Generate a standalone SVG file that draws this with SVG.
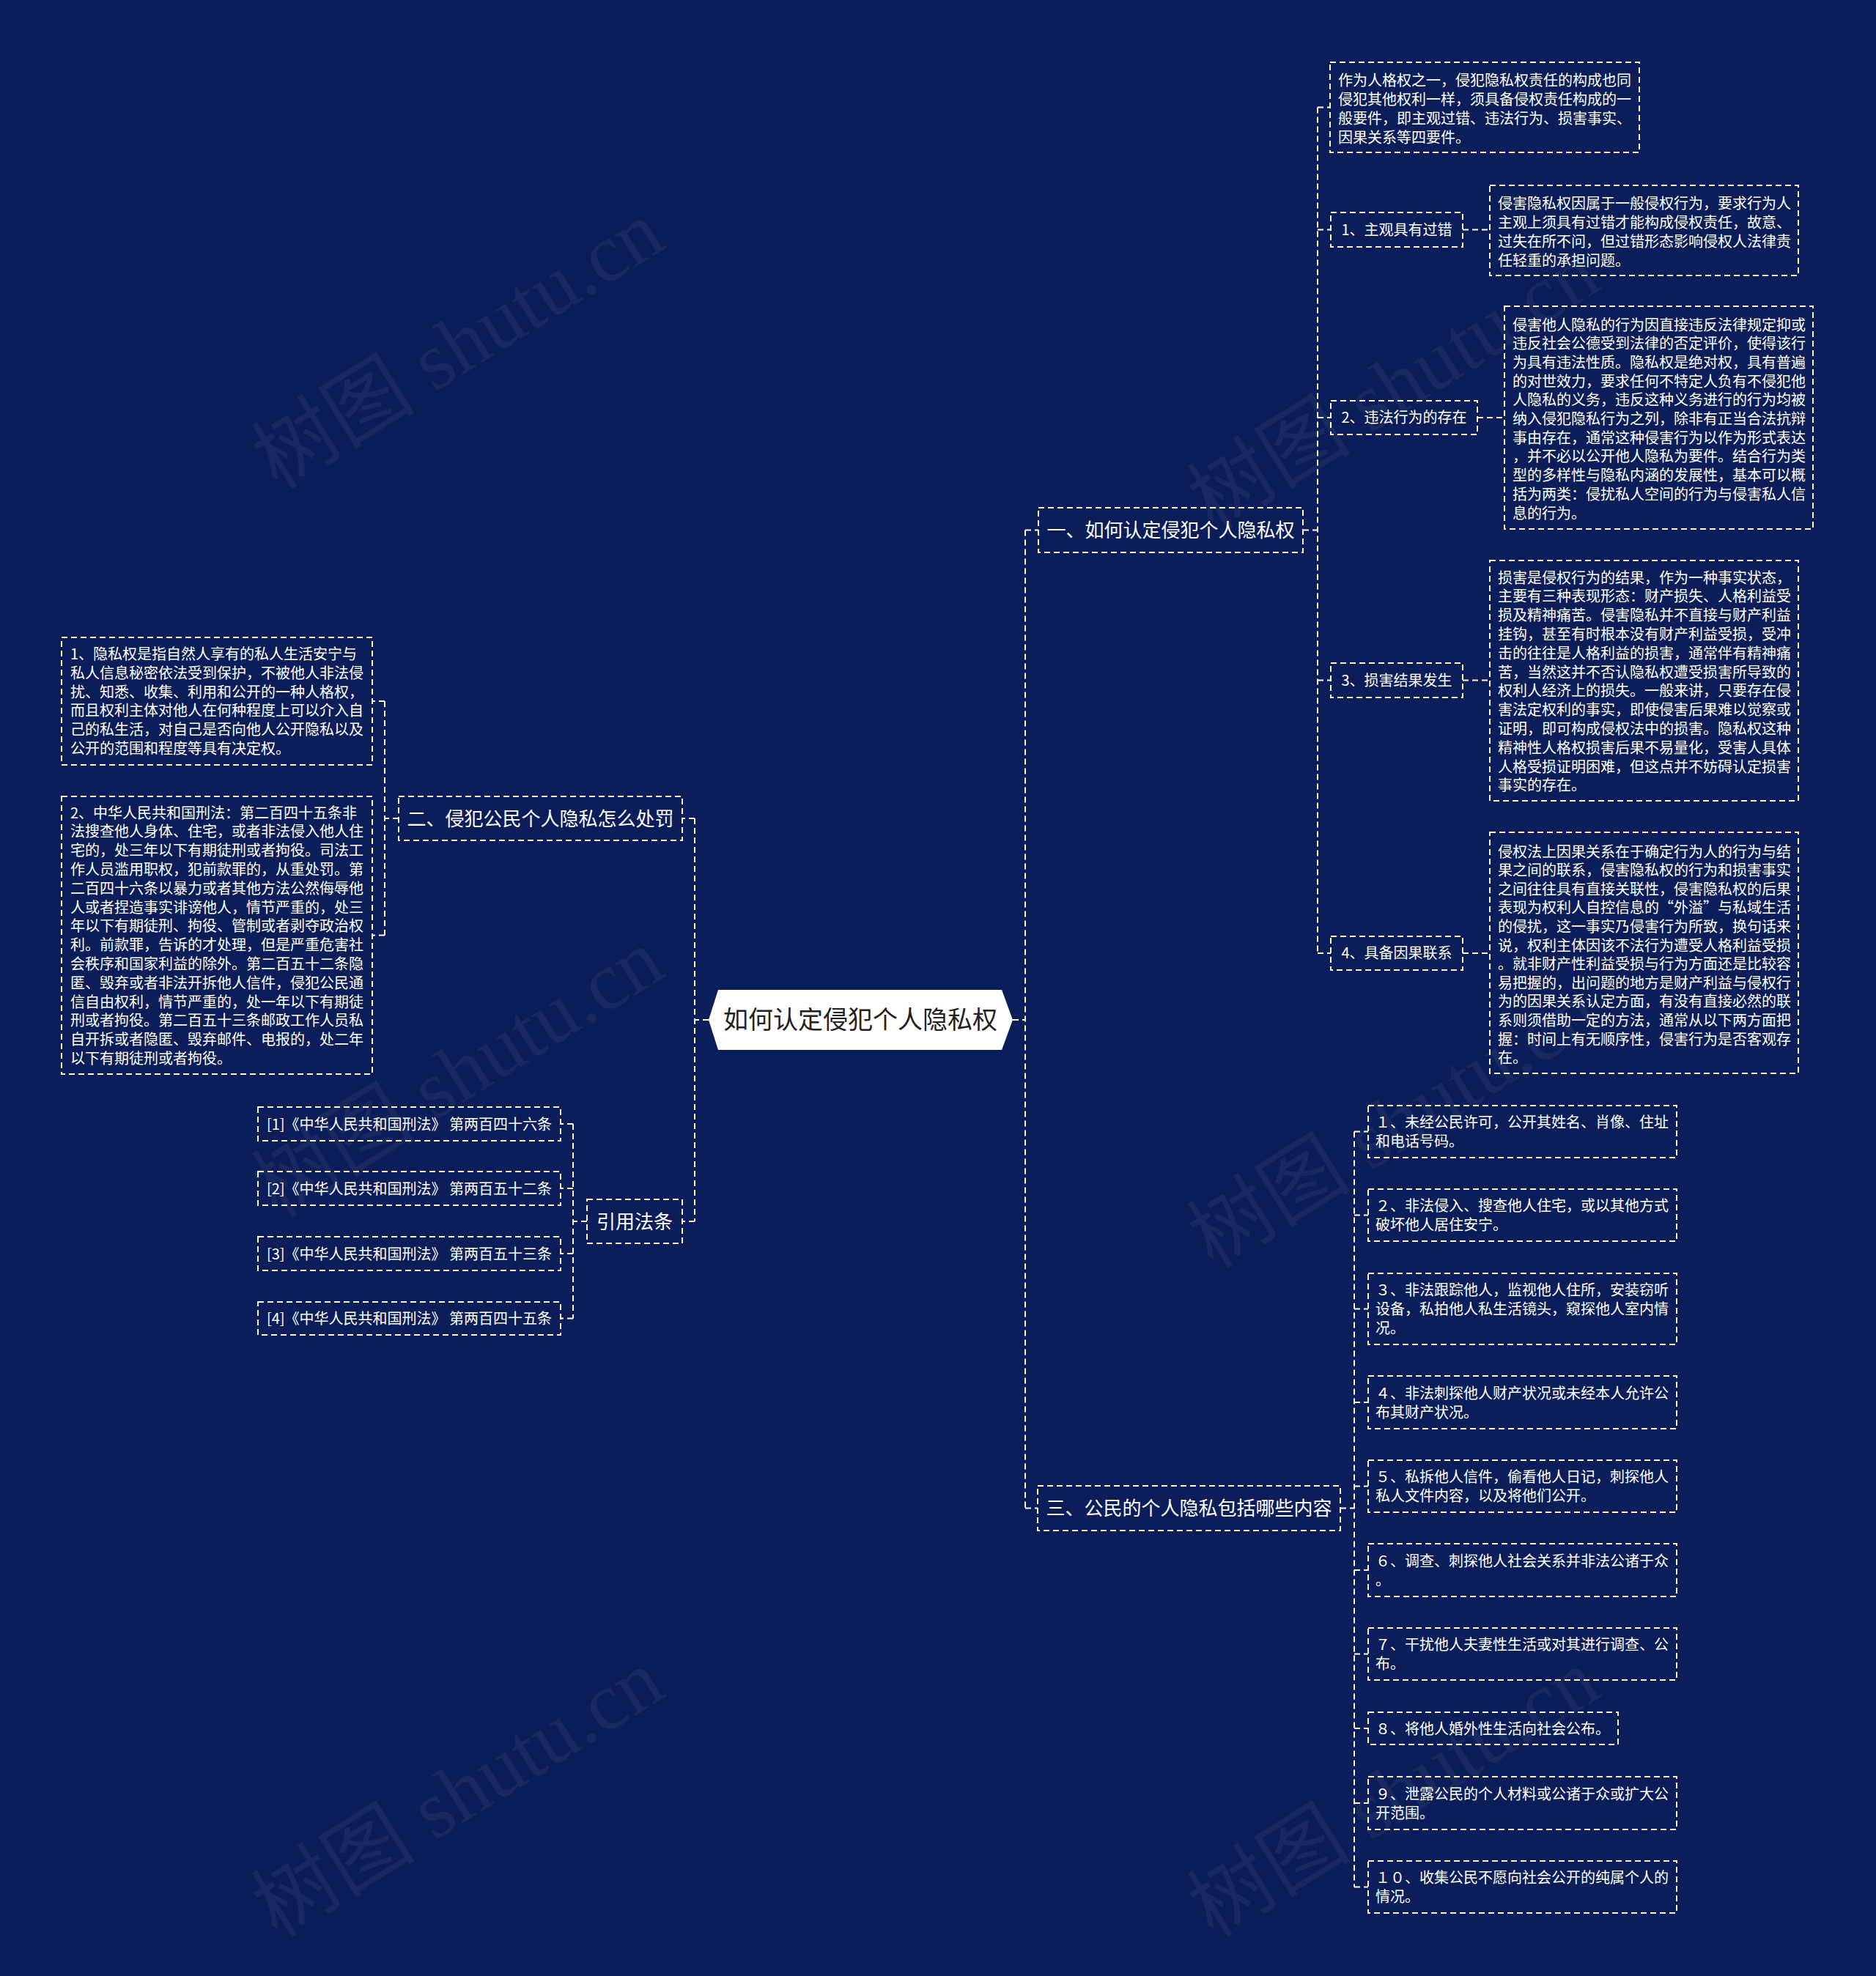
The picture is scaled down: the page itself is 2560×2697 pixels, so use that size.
<svg xmlns="http://www.w3.org/2000/svg" width="2560" height="2697" viewBox="0 0 2560 2697">
<style>
.bg{fill:#0c1e5a}
.wm{font-family:'Liberation Serif','Noto Sans CJK SC',serif;font-size:112px;fill:#ffffff;fill-opacity:0.05}
.box{fill:none;stroke:#ffffff;stroke-width:2;stroke-dasharray:8 5}
.ln{fill:none;stroke:#ffffff;stroke-width:2;stroke-dasharray:8 5}
.t20{font-family:'Noto Sans CJK SC','Noto Sans',sans-serif;font-size:20px;fill:#ffffff}
.t26{font-family:'Noto Sans CJK SC','Noto Sans',sans-serif;font-size:26px;fill:#ffffff}
.troot{font-family:'Noto Sans CJK SC','Noto Sans',sans-serif;font-size:34px;fill:#222222}
.mid{text-anchor:middle}
</style>
<rect class="bg" x="0" y="0" width="2560" height="2697"/>
<g id="watermarks">
<text class="wm mid" transform="translate(645,503) rotate(-32)">树图 shutu.cn</text>
<text class="wm mid" transform="translate(1922,559) rotate(-32)">树图 shutu.cn</text>
<text class="wm mid" transform="translate(645,1497) rotate(-32)">树图 shutu.cn</text>
<text class="wm mid" transform="translate(1922,1566) rotate(-32)">树图 shutu.cn</text>
<text class="wm mid" transform="translate(645,2480) rotate(-32)">树图 shutu.cn</text>
<text class="wm mid" transform="translate(1922,2480) rotate(-32)">树图 shutu.cn</text>
</g>
<g id="connectors">
<path class="ln" d="M1382 1392H1399M1399 723.5V2058.5M1399 723.5H1417M1399 2058.5H1416"/>
<path class="ln" d="M967 1392H948M948 1117V1667M948 1117H931M948 1667H931"/>
<path class="ln" d="M1778 723.5H1798M1798 146.5V1301M1798 146.5H1815M1798 313.5H1816M1798 570H1816M1798 928.5H1816M1798 1301H1816"/>
<path class="ln" d="M1996 313.5H2033M2016 570H2053M1996 928.5H2033M1996 1301H2033"/>
<path class="ln" d="M544 1117H525M525 957V1276.5M525 957H508M525 1276.5H508"/>
<path class="ln" d="M801 1667H782M782 1534V1799.5M782 1534H765M782 1622H765M782 1711H765M782 1799.5H765"/>
<path class="ln" d="M1829 2058.5H1848M1848 1544.5V2575.5M1848 1544.5H1867M1848 1658.5H1867M1848 1786.5H1867M1848 1914H1867M1848 2028.5H1867M1848 2143H1867M1848 2257.5H1867M1848 2359H1867M1848 2461H1867M1848 2575.5H1867"/>
</g>
<g id="root">
<polygon points="967,1392 980,1351 1367,1351 1382,1392 1367,1433 980,1433" fill="#ffffff"/>
<text class="troot mid" x="1174" y="1404">如何认定侵犯个人隐私权</text>
</g>
<g id="branch1">
<rect class="box" x="1417" y="693" width="361" height="61"/>
<text class="t26 mid" x="1597.5" y="733">一、如何认定侵犯个人隐私权</text>
</g>
<g id="b1-intro">
<rect class="box" x="1815" y="85" width="422" height="123"/>
<text class="t20"><tspan x="1826" y="117">作为人格权之一，侵犯隐私权责任的构成也同</tspan><tspan x="1826" y="143">侵犯其他权利一样，须具备侵权责任构成的一</tspan><tspan x="1826" y="169">般要件，即主观过错、违法行为、损害事实、</tspan><tspan x="1826" y="195">因果关系等四要件。</tspan></text>
</g>
<g id="b1-item1">
<rect class="box" x="1816" y="290" width="180" height="47"/>
<text class="t20 mid" x="1906" y="320.5">1、主观具有过错</text>
</g>
<g id="b1-detail1">
<rect class="box" x="2033" y="253" width="421" height="123"/>
<text class="t20"><tspan x="2044" y="285">侵害隐私权因属于一般侵权行为，要求行为人</tspan><tspan x="2044" y="311">主观上须具有过错才能构成侵权责任，故意、</tspan><tspan x="2044" y="337">过失在所不问，但过错形态影响侵权人法律责</tspan><tspan x="2044" y="363">任轻重的承担问题。</tspan></text>
</g>
<g id="b1-item2">
<rect class="box" x="1816" y="547" width="200" height="46"/>
<text class="t20 mid" x="1916" y="577">2、违法行为的存在</text>
</g>
<g id="b1-detail2">
<rect class="box" x="2053" y="418" width="421" height="304"/>
<text class="t20"><tspan x="2064" y="450.5">侵害他人隐私的行为因直接违反法律规定抑或</tspan><tspan x="2064" y="476.2">违反社会公德受到法律的否定评价，使得该行</tspan><tspan x="2064" y="501.9">为具有违法性质。隐私权是绝对权，具有普遍</tspan><tspan x="2064" y="527.6">的对世效力，要求任何不特定人负有不侵犯他</tspan><tspan x="2064" y="553.3">人隐私的义务，违反这种义务进行的行为均被</tspan><tspan x="2064" y="579">纳入侵犯隐私行为之列，除非有正当合法抗辩</tspan><tspan x="2064" y="604.7">事由存在，通常这种侵害行为以作为形式表达</tspan><tspan x="2064" y="630.4">，并不必以公开他人隐私为要件。结合行为类</tspan><tspan x="2064" y="656.1">型的多样性与隐私内涵的发展性，基本可以概</tspan><tspan x="2064" y="681.8">括为两类：侵扰私人空间的行为与侵害私人信</tspan><tspan x="2064" y="707.5">息的行为。</tspan></text>
</g>
<g id="b1-item3">
<rect class="box" x="1816" y="905" width="180" height="47"/>
<text class="t20 mid" x="1906" y="936">3、损害结果发生</text>
</g>
<g id="b1-detail3">
<rect class="box" x="2033" y="765" width="421" height="328"/>
<text class="t20"><tspan x="2044" y="795.5">损害是侵权行为的结果，作为一种事实状态，</tspan><tspan x="2044" y="821.3">主要有三种表现形态：财产损失、人格利益受</tspan><tspan x="2044" y="847.1">损及精神痛苦。侵害隐私并不直接与财产利益</tspan><tspan x="2044" y="872.9">挂钩，甚至有时根本没有财产利益受损，受冲</tspan><tspan x="2044" y="898.7">击的往往是人格利益的损害，通常伴有精神痛</tspan><tspan x="2044" y="924.5">苦，当然这并不否认隐私权遭受损害所导致的</tspan><tspan x="2044" y="950.3">权利人经济上的损失。一般来讲，只要存在侵</tspan><tspan x="2044" y="976.1">害法定权利的事实，即使侵害后果难以觉察或</tspan><tspan x="2044" y="1001.9">证明，即可构成侵权法中的损害。隐私权这种</tspan><tspan x="2044" y="1027.7">精神性人格权损害后果不易量化，受害人具体</tspan><tspan x="2044" y="1053.5">人格受损证明困难，但这点并不妨碍认定损害</tspan><tspan x="2044" y="1079.3">事实的存在。</tspan></text>
</g>
<g id="b1-item4">
<rect class="box" x="1816" y="1278" width="180" height="46"/>
<text class="t20 mid" x="1906" y="1308">4、具备因果联系</text>
</g>
<g id="b1-detail4">
<rect class="box" x="2033" y="1136" width="421" height="329"/>
<text class="t20"><tspan x="2044" y="1169.5">侵权法上因果关系在于确定行为人的行为与结</tspan><tspan x="2044" y="1195.1">果之间的联系，侵害隐私权的行为和损害事实</tspan><tspan x="2044" y="1220.7">之间往往具有直接关联性，侵害隐私权的后果</tspan><tspan x="2044" y="1246.3">表现为权利人自控信息的“外溢”与私域生活</tspan><tspan x="2044" y="1271.9">的侵扰，这一事实乃侵害行为所致，换句话来</tspan><tspan x="2044" y="1297.5">说，权利主体因该不法行为遭受人格利益受损</tspan><tspan x="2044" y="1323.1">。就非财产性利益受损与行为方面还是比较容</tspan><tspan x="2044" y="1348.7">易把握的，出问题的地方是财产利益与侵权行</tspan><tspan x="2044" y="1374.3">为的因果关系认定方面，有没有直接必然的联</tspan><tspan x="2044" y="1399.9">系则须借助一定的方法，通常从以下两方面把</tspan><tspan x="2044" y="1425.5">握：时间上有无顺序性，侵害行为是否客观存</tspan><tspan x="2044" y="1451.1">在。</tspan></text>
</g>
<g id="branch2">
<rect class="box" x="544" y="1087" width="387" height="60"/>
<text class="t26 mid" x="737.5" y="1126.5">二、侵犯公民个人隐私怎么处罚</text>
</g>
<g id="b2-item1">
<rect class="box" x="84" y="870" width="424" height="174"/>
<text class="t20"><tspan x="96" y="900">1、隐私权是指自然人享有的私人生活安宁与</tspan><tspan x="96" y="925.8">私人信息秘密依法受到保护，不被他人非法侵</tspan><tspan x="96" y="951.6">扰、知悉、收集、利用和公开的一种人格权，</tspan><tspan x="96" y="977.4">而且权利主体对他人在何种程度上可以介入自</tspan><tspan x="96" y="1003.2">己的私生活，对自己是否向他人公开隐私以及</tspan><tspan x="96" y="1029">公开的范围和程度等具有决定权。</tspan></text>
</g>
<g id="b2-item2">
<rect class="box" x="84" y="1087" width="424" height="379"/>
<text class="t20"><tspan x="96" y="1116.5">2、中华人民共和国刑法：第二百四十五条非</tspan><tspan x="96" y="1142.3">法搜查他人身体、住宅，或者非法侵入他人住</tspan><tspan x="96" y="1168.1">宅的，处三年以下有期徒刑或者拘役。司法工</tspan><tspan x="96" y="1193.9">作人员滥用职权，犯前款罪的，从重处罚。第</tspan><tspan x="96" y="1219.7">二百四十六条以暴力或者其他方法公然侮辱他</tspan><tspan x="96" y="1245.5">人或者捏造事实诽谤他人，情节严重的，处三</tspan><tspan x="96" y="1271.3">年以下有期徒刑、拘役、管制或者剥夺政治权</tspan><tspan x="96" y="1297.1">利。前款罪，告诉的才处理，但是严重危害社</tspan><tspan x="96" y="1322.9">会秩序和国家利益的除外。第二百五十二条隐</tspan><tspan x="96" y="1348.7">匿、毁弃或者非法开拆他人信件，侵犯公民通</tspan><tspan x="96" y="1374.5">信自由权利，情节严重的，处一年以下有期徒</tspan><tspan x="96" y="1400.3">刑或者拘役。第二百五十三条邮政工作人员私</tspan><tspan x="96" y="1426.1">自开拆或者隐匿、毁弃邮件、电报的，处二年</tspan><tspan x="96" y="1451.9">以下有期徒刑或者拘役。</tspan></text>
</g>
<g id="citations">
<rect class="box" x="801" y="1637" width="130" height="60"/>
<text class="t26 mid" x="866" y="1676.5">引用法条</text>
</g>
<g id="cite1">
<rect class="box" x="352" y="1511" width="413" height="46"/>
<text class="t20 mid" x="558.5" y="1541.5">[1]《中华人民共和国刑法》 第两百四十六条</text>
</g>
<g id="cite2">
<rect class="box" x="352" y="1599" width="413" height="46"/>
<text class="t20 mid" x="558.5" y="1629.5">[2]《中华人民共和国刑法》 第两百五十二条</text>
</g>
<g id="cite3">
<rect class="box" x="352" y="1688" width="413" height="46"/>
<text class="t20 mid" x="558.5" y="1718.5">[3]《中华人民共和国刑法》 第两百五十三条</text>
</g>
<g id="cite4">
<rect class="box" x="352" y="1777" width="413" height="45"/>
<text class="t20 mid" x="558.5" y="1807">[4]《中华人民共和国刑法》 第两百四十五条</text>
</g>
<g id="branch3">
<rect class="box" x="1416" y="2028" width="413" height="61"/>
<text class="t26 mid" x="1622.5" y="2068">三、公民的个人隐私包括哪些内容</text>
</g>
<g id="b3-item1">
<rect class="box" x="1867" y="1509" width="421" height="71"/>
<text class="t20"><tspan x="1877" y="1539">１、未经公民许可，公开其姓名、肖像、住址</tspan><tspan x="1877" y="1565">和电话号码。</tspan></text>
</g>
<g id="b3-item2">
<rect class="box" x="1867" y="1623" width="421" height="71"/>
<text class="t20"><tspan x="1877" y="1653">２、非法侵入、搜查他人住宅，或以其他方式</tspan><tspan x="1877" y="1679">破坏他人居住安宁。</tspan></text>
</g>
<g id="b3-item3">
<rect class="box" x="1867" y="1738" width="421" height="97"/>
<text class="t20"><tspan x="1877" y="1768">３、非法跟踪他人，监视他人住所，安装窃听</tspan><tspan x="1877" y="1794">设备，私拍他人私生活镜头，窥探他人室内情</tspan><tspan x="1877" y="1820">况。</tspan></text>
</g>
<g id="b3-item4">
<rect class="box" x="1867" y="1878" width="421" height="72"/>
<text class="t20"><tspan x="1877" y="1908.5">４、非法刺探他人财产状况或未经本人允许公</tspan><tspan x="1877" y="1934.5">布其财产状况。</tspan></text>
</g>
<g id="b3-item5">
<rect class="box" x="1867" y="1993" width="421" height="71"/>
<text class="t20"><tspan x="1877" y="2023">５、私拆他人信件，偷看他人日记，刺探他人</tspan><tspan x="1877" y="2049">私人文件内容，以及将他们公开。</tspan></text>
</g>
<g id="b3-item6">
<rect class="box" x="1867" y="2107" width="421" height="72"/>
<text class="t20"><tspan x="1877" y="2137.5">６、调查、刺探他人社会关系并非法公诸于众</tspan><tspan x="1877" y="2163.5">。</tspan></text>
</g>
<g id="b3-item7">
<rect class="box" x="1867" y="2222" width="421" height="71"/>
<text class="t20"><tspan x="1877" y="2252">７、干扰他人夫妻性生活或对其进行调查、公</tspan><tspan x="1877" y="2278">布。</tspan></text>
</g>
<g id="b3-item8">
<rect class="box" x="1867" y="2337" width="341" height="44"/>
<text class="t20" x="1877" y="2366.5">８、将他人婚外性生活向社会公布。</text>
</g>
<g id="b3-item9">
<rect class="box" x="1867" y="2425" width="421" height="72"/>
<text class="t20"><tspan x="1877" y="2455.5">９、泄露公民的个人材料或公诸于众或扩大公</tspan><tspan x="1877" y="2481.5">开范围。</tspan></text>
</g>
<g id="b3-item10">
<rect class="box" x="1867" y="2540" width="421" height="71"/>
<text class="t20"><tspan x="1877" y="2570">１０、收集公民不愿向社会公开的纯属个人的</tspan><tspan x="1877" y="2596">情况。</tspan></text>
</g>
</svg>
